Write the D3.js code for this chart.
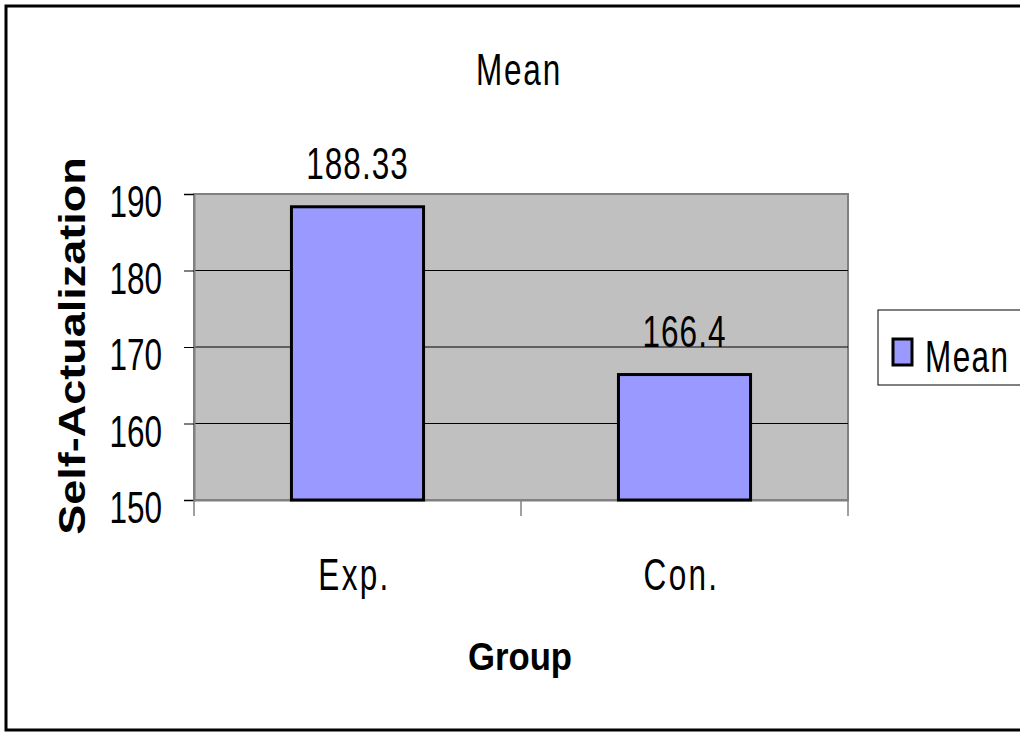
<!DOCTYPE html>
<html>
<head>
<meta charset="utf-8">
<script src="https://cdn.jsdelivr.net/npm/d3@7"></script>
<style>
  html, body { margin: 0; padding: 0; background: #ffffff; }
  svg { display: block; }
  .narrow { font-family: "Liberation Sans Narrow", "Arial Narrow", "Liberation Sans", Arial, sans-serif; }
  .bold { font-family: "Liberation Sans", Arial, sans-serif; font-weight: bold; }
</style>
</head>
<body>
<svg id="chart" width="1020" height="734"></svg>
<script>
const categories = ["Exp.", "Con."];
const meanValues = [188.33, 166.4];
const valueLabels = ["188.33", "166.4"];
const yTickValues = [150, 160, 170, 180, 190];
const seriesName = "Mean";
const chartTitle = "Mean";
const xTitle = "Group";
const yTitle = "Self-Actualization";

const svg = d3.select("#chart");
const W = 1020, H = 734;
const SX = 0.7;       // horizontal compression (the original chart is stretched vertically)
const FS = 45;

function narrowText(parent, x, y, txt, anchor, ls) {
  const g = parent.append("g").attr("transform", `translate(${x},${y}) scale(${SX},1)`);
  g.append("text").attr("class", "narrow").attr("x", 0).attr("y", 0)
    .attr("text-anchor", anchor).attr("font-size", FS).attr("letter-spacing", ls)
    .attr("fill", "#000").text(txt);
  return g;
}

// outer frame
svg.append("rect").attr("x", 6).attr("y", 6).attr("width", W + 10).attr("height", H - 10)
  .attr("fill", "#ffffff").attr("stroke", "#000000").attr("stroke-width", 3);

const plot = { left: 194, top: 194, right: 848, bottom: 500 };

const x = d3.scaleBand().domain(categories).range([plot.left, plot.right]).paddingInner(0.596).paddingOuter(0.298);
const xOuter = d3.scaleBand().domain(categories).range([plot.left, plot.right]);
const y = d3.scaleLinear().domain([150, 190]).range([plot.bottom, plot.top]);

// plot area
svg.append("rect").attr("x", plot.left).attr("y", plot.top)
  .attr("width", plot.right - plot.left).attr("height", plot.bottom - plot.top)
  .attr("fill", "#c0c0c0").attr("stroke", "#808080").attr("stroke-width", 2);

// gridlines
svg.append("g").selectAll("line").data(yTickValues.filter(v => v > 150 && v < 190)).join("line")
  .attr("x1", plot.left).attr("x2", plot.right)
  .attr("y1", d => y(d)).attr("y2", d => y(d))
  .attr("stroke", "#000000").attr("stroke-width", 1);

// y axis
const yAxis = svg.append("g").attr("transform", `translate(${plot.left},0)`)
  .call(d3.axisLeft(y).tickValues(yTickValues).tickSize(10).tickPadding(22).tickFormat(d3.format("d")));
yAxis.select(".domain").attr("stroke", "#808080").attr("stroke-width", 2);
yAxis.selectAll(".tick line").attr("stroke", "#000000");
yAxis.selectAll(".tick text").attr("class", "narrow").attr("font-size", FS).attr("fill", "#000")
  .attr("x", -(10 + 22) / SX).attr("dy", "0.5em")
  .attr("transform", `scale(${SX},1)`);

// x axis
const xAxis = svg.append("g").attr("transform", `translate(0,${plot.bottom})`)
  .call(d3.axisBottom(xOuter).tickSize(0).tickFormat(""));
xAxis.select(".domain").attr("stroke", "#808080").attr("stroke-width", 2);
xAxis.selectAll(".tick").remove();
const boundaries = [plot.left].concat(categories.map(c => xOuter(c) + xOuter.bandwidth()));
svg.append("g").selectAll("line").data(boundaries).join("line")
  .attr("x1", d => d).attr("x2", d => d)
  .attr("y1", plot.bottom).attr("y2", plot.bottom + 16)
  .attr("stroke", "#808080").attr("stroke-width", 1.5);

// category labels
const catG = svg.append("g");
categories.forEach(c => narrowText(catG, xOuter(c) + xOuter.bandwidth() / 2 - 3, 590, c, "middle", 3.3));

// bars
svg.append("g").selectAll("rect").data(categories).join("rect")
  .attr("x", d => x(d)).attr("width", x.bandwidth())
  .attr("y", (d, i) => y(meanValues[i])).attr("height", (d, i) => plot.bottom - y(meanValues[i]))
  .attr("fill", "#9999ff").attr("stroke", "#000000").attr("stroke-width", 3);

// value labels
const valG = svg.append("g");
categories.forEach((c, i) => narrowText(valG, x(c) + x.bandwidth() / 2, y(meanValues[i]) - 28, valueLabels[i], "middle", 1.5));

// title
narrowText(svg, 519, 85, chartTitle, "middle", 2.5);

// axis titles
svg.append("g").attr("transform", "translate(520,670) scale(0.89,1)")
  .append("text").attr("class", "bold").attr("x", 0).attr("y", 0)
  .attr("text-anchor", "middle").attr("font-size", 39).text(xTitle);
svg.append("g").attr("transform", "translate(85,346) scale(0.8,1) rotate(-90)")
  .append("text").attr("class", "bold").attr("x", 0).attr("y", 0)
  .attr("text-anchor", "middle").attr("font-size", 45).text(yTitle);

// legend
const lg = svg.append("g");
lg.append("rect").attr("x", 878).attr("y", 310).attr("width", 160).attr("height", 75)
  .attr("fill", "#ffffff").attr("stroke", "#000000").attr("stroke-width", 1);
lg.append("rect").attr("x", 893).attr("y", 339).attr("width", 19).attr("height", 26)
  .attr("fill", "#9999ff").attr("stroke", "#000000").attr("stroke-width", 3);
narrowText(lg, 925, 372, seriesName, "start", 2);
</script>
</body>
</html>
